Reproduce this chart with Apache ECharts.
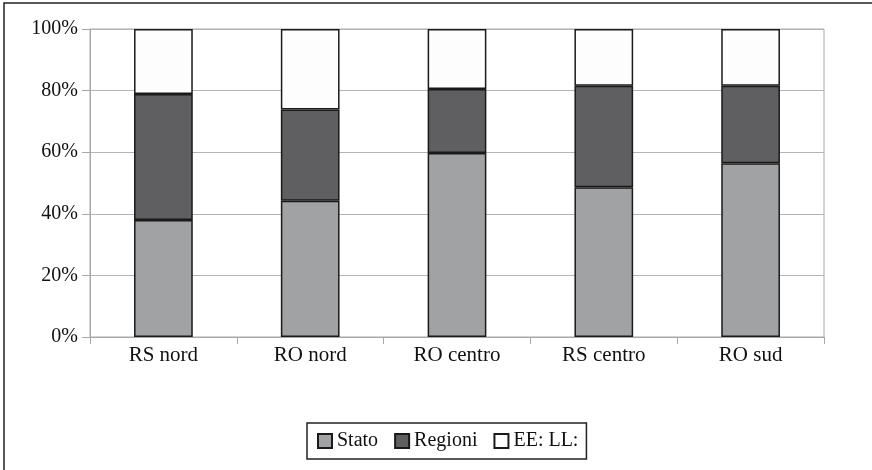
<!DOCTYPE html>
<html>
<head>
<meta charset="utf-8">
<script src="https://cdn.jsdelivr.net/npm/echarts@6/dist/echarts.min.js"></script>
<style>
  html, body { margin: 0; padding: 0; background: #fff; }
  #chart { width: 872px; height: 470px; }
</style>
</head>
<body>
<div id="chart"></div>
<script>
// Quota di spesa per livello di governo (valori percentuali)
const categories = ['RS nord', 'RO nord', 'RO centro', 'RS centro', 'RO sud'];
const stato   = [38.0, 44.2, 59.7, 48.6, 56.4];
const regioni = [40.9, 29.7, 20.8, 33.0, 25.2];
const eell    = [21.1, 26.1, 19.5, 18.4, 18.4];
const yTicks  = [0, 20, 40, 60, 80, 100];

const seriesNames  = ['Stato', 'Regioni', 'EE: LL:'];
const seriesData   = [stato, regioni, eell];
const seriesColors = ['#a1a2a4', '#5f5f61', '#fdfdfd'];

const serifFont = '"Liberation Serif", "DejaVu Serif", serif';

const chart = echarts.init(document.getElementById('chart'), null, { renderer: 'canvas' });

chart.setOption({
  animation: false,
  backgroundColor: '#fff',
  graphic: [{
    type: 'rect',
    shape: { x: 4, y: 3, width: 880, height: 480 },
    style: { fill: 'none', stroke: '#222', lineWidth: 1.5 },
    silent: true
  }],
  grid: {
    left: 90, right: 48, top: 29, bottom: 133,
    show: true, borderColor: '#a8a8a8', borderWidth: 1, backgroundColor: 'transparent'
  },
  legend: {
    data: seriesNames,
    left: 307, top: 423,
    padding: [8, 8, 8, 10],
    borderColor: '#222', borderWidth: 1.5,
    itemWidth: 14, itemHeight: 14, itemGap: 16,
    icon: 'rect',
    textStyle: { fontFamily: serifFont, fontSize: 20, color: '#111' }
  },
  xAxis: {
    type: 'category',
    data: categories,
    axisLine: { lineStyle: { color: '#a8a8a8', width: 1 } },
    axisTick: { show: true, length: 7, lineStyle: { color: '#a8a8a8' } },
    axisLabel: { fontFamily: serifFont, fontSize: 21, color: '#111', margin: 8 }
  },
  yAxis: {
    type: 'value',
    min: yTicks[0], max: yTicks[yTicks.length - 1], interval: 20,
    axisLine: { show: true, lineStyle: { color: '#a8a8a8', width: 1 } },
    axisTick: { show: true, length: 8, lineStyle: { color: '#a8a8a8' } },
    splitLine: { show: true, lineStyle: { color: '#b4b4b4', width: 1 } },
    axisLabel: {
      fontFamily: serifFont, fontSize: 20, color: '#111', margin: 12,
      formatter: v => v + '%'
    }
  },
  series: seriesNames.map((name, i) => ({
    name: name,
    type: 'bar',
    stack: 'totale',
    barWidth: '40%',
    data: seriesData[i],
    itemStyle: { color: seriesColors[i], borderColor: '#1a1a1a', borderWidth: 1.5 }
  }))
});
</script>
</body>
</html>
